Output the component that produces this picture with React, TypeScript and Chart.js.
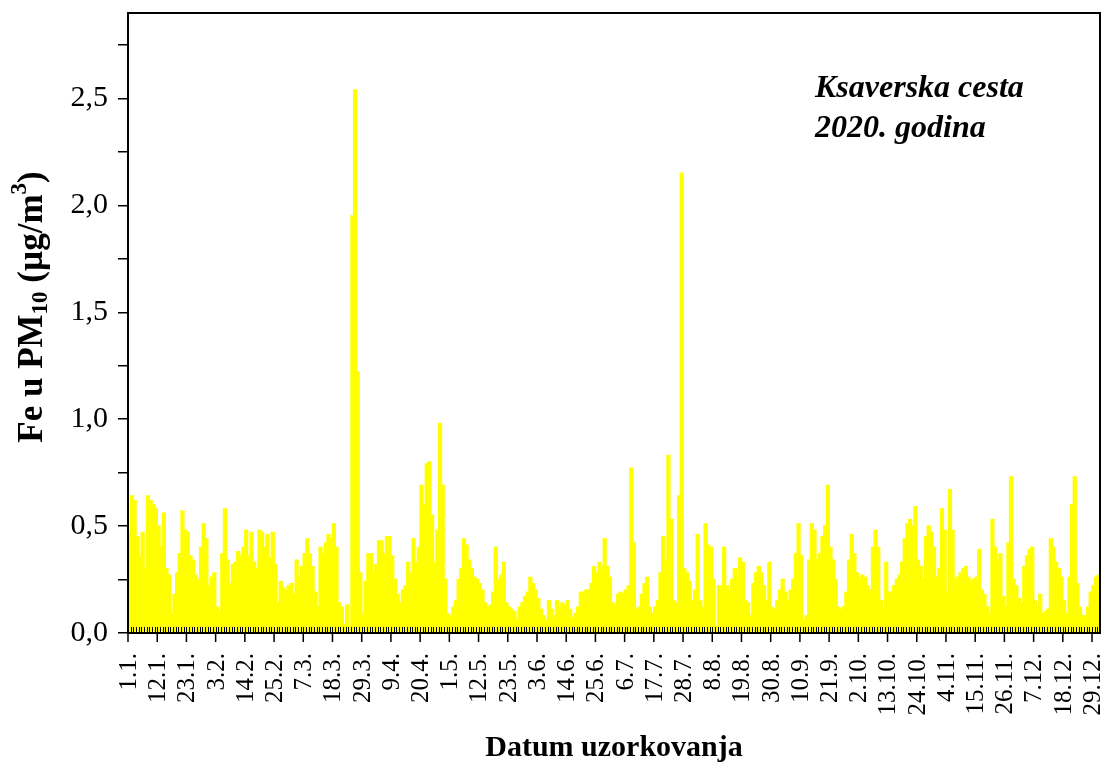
import React, { useEffect, useRef } from 'react';
import { Chart, registerables } from 'chart.js';

Chart.register(...registerables);

const FONT = "'Liberation Serif', 'Times New Roman', serif";

// 2020 (leap year) month lengths, used to build the daily categories
const MONTH_DAYS = [31, 29, 31, 30, 31, 30, 31, 31, 30, 31, 30, 31];

const TICK_EVERY = 11;
const TICK_LABELS = [
  '1.1.', '12.1.', '23.1.', '3.2.', '14.2.', '25.2.', '7.3.', '18.3.', '29.3.', '9.4.',
  '20.4.', '1.5.', '12.5.', '23.5.', '3.6.', '14.6.', '25.6.', '6.7.', '17.7.', '28.7.',
  '8.8.', '19.8.', '30.8.', '10.9.', '21.9.', '2.10.', '13.10.', '24.10.', '4.11.', '15.11.',
  '26.11.', '7.12.', '18.12.', '29.12.',
];

// Fe u PM10 (µg/m3), daily values 1.1.–31.12.2020
const FE_JAN_MAR = [
  0.47, 0.64, 0.62, 0.45, 0.36, 0.47, 0.30, 0.64, 0.62, 0.60,
  0.58, 0.50, 0.40, 0.56, 0.30, 0.27, 0.09, 0.18, 0.28, 0.37,
  0.57, 0.48, 0.47, 0.36, 0.34, 0.27, 0.25, 0.40, 0.51, 0.44,
  0.22, 0.26, 0.28, 0.12, 0.10, 0.37, 0.58, 0.34, 0.23, 0.32,
  0.33, 0.38, 0.36, 0.40, 0.48, 0.36, 0.47, 0.33, 0.30, 0.48,
  0.47, 0.40, 0.46, 0.35, 0.47, 0.32, 0.14, 0.24, 0.21, 0.20,
  0.22, 0.23, 0.18, 0.34, 0.26, 0.31, 0.37, 0.44, 0.37, 0.31,
  0.19, 0.12, 0.40, 0.37, 0.42, 0.46, 0.44, 0.51, 0.40, 0.14,
  0.12, 0.04, 0.13, 0.03, 1.95, 2.54, 1.22, 0.28, 0.09, 0.24,
  0.37,
];
const FE_APR_JUN = [
  0.37, 0.28, 0.32, 0.43, 0.43, 0.37, 0.45, 0.45, 0.36,
  0.25, 0.18, 0.14, 0.20, 0.22, 0.33, 0.28, 0.44, 0.33, 0.40,
  0.69, 0.60, 0.79, 0.80, 0.55, 0.33, 0.48, 0.98, 0.69, 0.25,
  0.09, 0.08, 0.12, 0.15, 0.25, 0.30, 0.44, 0.41, 0.34, 0.30,
  0.26, 0.25, 0.23, 0.20, 0.14, 0.12, 0.13, 0.19, 0.40, 0.25,
  0.27, 0.33, 0.14, 0.12, 0.11, 0.10, 0.06, 0.12, 0.14, 0.17,
  0.19, 0.26, 0.23, 0.20, 0.16, 0.11, 0.08, 0.06, 0.15, 0.11,
  0.08, 0.15, 0.12, 0.14, 0.13, 0.15, 0.11, 0.07, 0.09, 0.12,
  0.19, 0.19, 0.20, 0.20, 0.23, 0.31, 0.28, 0.33, 0.31, 0.44,
  0.31, 0.26,
];
const FE_JUL_SEP = [
  0.14, 0.12, 0.18, 0.19, 0.18, 0.20, 0.22, 0.77,
  0.42, 0.11, 0.12, 0.18, 0.23, 0.26, 0.12, 0.09, 0.12, 0.15,
  0.28, 0.45, 0.34, 0.83, 0.53, 0.15, 0.14, 0.64, 2.15, 0.30,
  0.28, 0.24, 0.15, 0.20, 0.46, 0.15, 0.12, 0.51, 0.41, 0.40,
  0.25, 0.03, 0.22, 0.22, 0.40, 0.22, 0.19, 0.25, 0.30, 0.26,
  0.35, 0.33, 0.15, 0.14, 0.08, 0.23, 0.28, 0.31, 0.28, 0.22,
  0.15, 0.33, 0.12, 0.11, 0.15, 0.20, 0.25, 0.19, 0.15, 0.20,
  0.25, 0.37, 0.51, 0.36, 0.06, 0.08, 0.34, 0.51, 0.48, 0.34,
  0.37, 0.45, 0.50, 0.69, 0.40, 0.34, 0.25, 0.12, 0.11, 0.12,
  0.19, 0.34, 0.46, 0.37,
];
const FE_OCT_DEC = [
  0.28, 0.25, 0.27, 0.26, 0.22, 0.20,
  0.40, 0.48, 0.40, 0.15, 0.11, 0.33, 0.19, 0.19, 0.22, 0.25,
  0.27, 0.33, 0.44, 0.51, 0.53, 0.50, 0.59, 0.34, 0.31, 0.25,
  0.45, 0.50, 0.47, 0.40, 0.26, 0.30, 0.58, 0.48, 0.19, 0.67,
  0.48, 0.25, 0.26, 0.28, 0.30, 0.31, 0.26, 0.24, 0.25, 0.26,
  0.39, 0.20, 0.18, 0.12, 0.09, 0.53, 0.40, 0.34, 0.37, 0.17,
  0.12, 0.42, 0.73, 0.25, 0.22, 0.16, 0.14, 0.31, 0.36, 0.39,
  0.40, 0.15, 0.12, 0.18, 0.09, 0.10, 0.11, 0.44, 0.40, 0.33,
  0.30, 0.26, 0.15, 0.09, 0.26, 0.60, 0.73, 0.23, 0.12, 0.08,
  0.08, 0.12, 0.19, 0.22, 0.26, 0.27,
];
const FE_VALUES = [...FE_JAN_MAR, ...FE_APR_JUN, ...FE_JUL_SEP, ...FE_OCT_DEC];

const Y_MAX = 2.9;
const Y_TICKS = [0, 0.25, 0.5, 0.75, 1, 1.25, 1.5, 1.75, 2, 2.25, 2.5, 2.75];

const Y_TITLE = [
  { t: 'Fe u PM', size: 35, dy: 0 },
  { t: '10', size: 23, dy: 8 },
  { t: ' (µg/m', size: 35, dy: 0 },
  { t: '3', size: 23, dy: -13 },
  { t: ')', size: 35, dy: 0 },
];
const X_TITLE = 'Datum uzorkovanja';
const NOTE_LINES = ['Ksaverska cesta', '2020. godina'];

const CATEGORIES: string[] = [];
MONTH_DAYS.forEach((n, m) => {
  for (let d = 1; d <= n; d++) CATEGORIES.push(`${d}.${m + 1}.`);
});

const zeroPad = (s: any) => {
  s.paddingTop = 0;
  s.paddingBottom = 0;
  s.paddingLeft = 0;
  s.paddingRight = 0;
};

const decorPlugin = {
  id: 'decor',
  afterDatasetsDraw(chart: any) {
    const { ctx, chartArea: a, scales } = chart;
    const x = scales.x;
    const n = CATEGORIES.length;
    const half = (x.getPixelForValue(1) - x.getPixelForValue(0)) / 2;
    ctx.save();
    ctx.strokeStyle = '#000';
    // minor inward ticks (every day)
    ctx.lineWidth = 1;
    ctx.beginPath();
    for (let i = 0; i <= n; i++) {
      const px = i < n ? x.getPixelForValue(i) - half : x.getPixelForValue(n - 1) + half;
      const rx = Math.round(px) + 0.5;
      ctx.moveTo(rx, a.bottom);
      ctx.lineTo(rx, a.bottom - 6);
    }
    ctx.stroke();
    // major outward ticks
    ctx.lineWidth = 1.5;
    ctx.beginPath();
    for (let i = 0; i <= n; i += TICK_EVERY) {
      const px = x.getPixelForValue(i) - half;
      ctx.moveTo(px, a.bottom);
      ctx.lineTo(px, a.bottom + 9);
    }
    ctx.stroke();
    // frame
    ctx.lineWidth = 2;
    ctx.strokeRect(a.left, a.top, a.right - a.left, a.bottom - a.top);
    ctx.restore();
  },
  afterDraw(chart: any) {
    const { ctx, chartArea: a } = chart;
    ctx.save();
    ctx.fillStyle = '#000';
    // y title (rotated, with sub/superscripts)
    let total = 0;
    Y_TITLE.forEach((s) => {
      ctx.font = `bold ${s.size}px ${FONT}`;
      total += ctx.measureText(s.t).width;
    });
    ctx.translate(33, 307);
    ctx.rotate(-Math.PI / 2);
    ctx.textBaseline = 'middle';
    ctx.textAlign = 'left';
    let cx = -total / 2;
    Y_TITLE.forEach((s) => {
      ctx.font = `bold ${s.size}px ${FONT}`;
      ctx.fillText(s.t, cx, s.dy);
      cx += ctx.measureText(s.t).width;
    });
    ctx.setTransform(1, 0, 0, 1, 0, 0);
    // x title
    ctx.font = `bold 30px ${FONT}`;
    ctx.textAlign = 'center';
    ctx.textBaseline = 'middle';
    ctx.fillText(X_TITLE, (a.left + a.right) / 2, 748);
    // note
    ctx.font = `italic bold 32px ${FONT}`;
    ctx.textAlign = 'left';
    ctx.textBaseline = 'alphabetic';
    ctx.fillText(NOTE_LINES[0], 815, 97);
    ctx.fillText(NOTE_LINES[1], 815, 137);
    ctx.restore();
  },
};

export default function App() {
  const ref = useRef<HTMLCanvasElement | null>(null);
  useEffect(() => {
    if (!ref.current) return;
    const chart = new Chart(ref.current, {
      type: 'bar',
      data: {
        labels: CATEGORIES,
        datasets: [
          {
            data: FE_VALUES,
            backgroundColor: '#ffff00',
            borderWidth: 0,
            barPercentage: 1,
            categoryPercentage: 1,
            inflateAmount: 0.8,
          },
        ],
      },
      options: {
        animation: false,
        responsive: false,
        layout: { padding: { top: 13, right: 4, left: 0, bottom: 0 } },
        plugins: { legend: { display: false }, tooltip: { enabled: false } },
        scales: {
          x: {
            type: 'category',
            offset: true,
            grid: { display: false },
            border: { display: false },
            ticks: {
              autoSkip: false,
              minRotation: 90,
              maxRotation: 90,
              padding: 12,
              color: '#000',
              font: { family: FONT, size: 25 },
              callback: (_v: any, i: number) =>
                i % TICK_EVERY === 0 ? TICK_LABELS[i / TICK_EVERY] : '',
            },
            afterFit: (s: any) => {
              s.height = 134;
              zeroPad(s);
            },
          },
          y: {
            min: 0,
            max: Y_MAX,
            grid: {
              display: true,
              drawOnChartArea: false,
              drawTicks: true,
              tickLength: 10,
              color: '#000',
              lineWidth: 1.5,
            },
            border: { display: false },
            afterBuildTicks: (s: any) => {
              s.ticks = Y_TICKS.map((v) => ({ value: v }));
            },
            ticks: {
              padding: 10,
              color: '#000',
              font: { family: FONT, size: 30 },
              callback: (v: any) =>
                Number(v) % 0.5 === 0 ? Number(v).toFixed(1).replace('.', ',') : '',
            },
            afterFit: (s: any) => {
              s.width = 128;
              zeroPad(s);
            },
          },
        },
      },
      plugins: [decorPlugin],
    });
    return () => chart.destroy();
  }, []);
  return (
    <div style={{ position: 'fixed', left: 0, top: 0, width: 1104, height: 767, background: '#fff' }}>
      <canvas ref={ref} width={1104} height={767} style={{ display: 'block' }} />
    </div>
  );
}
